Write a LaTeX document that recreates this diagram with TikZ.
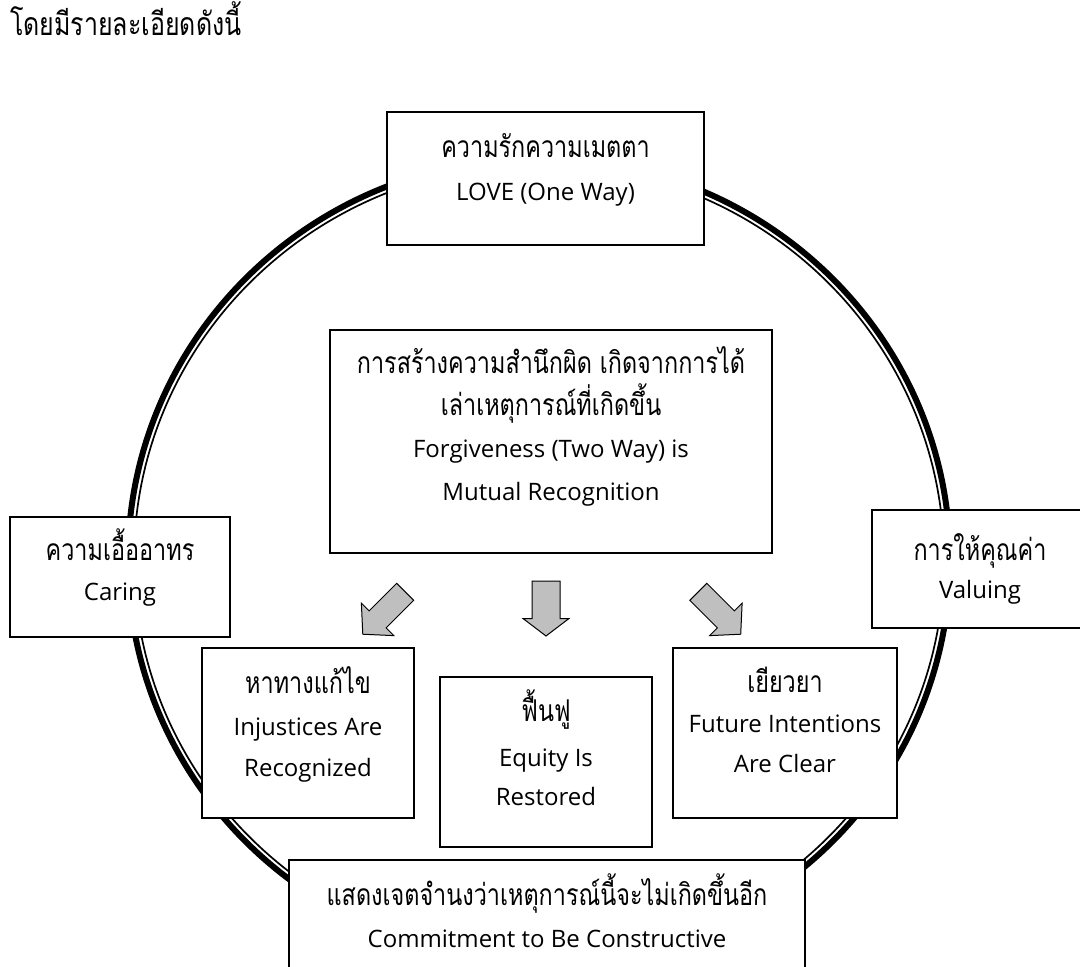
\documentclass[tikz,border=0pt]{standalone}
\usepackage{fontspec}
\setmainfont{Open Sans}
\newfontfamily\thaifont[Script=Thai, FakeStretch=0.78]{Loma}

\tikzset{
  box/.style={draw=black, line width=1.5pt, fill=white, inner sep=0pt},
  lat/.style={anchor=base, inner sep=0pt, font=\fontsize{24}{24}\selectfont},
  th/.style={anchor=base, inner sep=0pt, font=\thaifont\fontsize{30}{30}\selectfont},
  blockarrow/.style={fill=black!25, draw=black, line width=1pt, line join=miter},
}

\begin{document}
\begin{tikzpicture}[x=1pt, y=-1pt]
\useasboundingbox (0,0) rectangle (1080,967);

% heading
\node[th, anchor=base west, font=\thaifont\fontsize{32}{32}\selectfont] (title) at (10,35) {โดยมีรายละเอียดดังนี้};

% the ring: heavy outer stroke with a thin inner stroke
\draw[line width=6pt] (539,560) ellipse [x radius=411, y radius=402];
\draw[line width=1.7pt] (539,560) ellipse [x radius=405, y radius=396];

% top box
\node[box, minimum width=317pt, minimum height=133pt] (love) at (545.5,178.5) {};
\node[th] (loveth) at (545.5,157) {ความรักความเมตตา};
\node[lat] (loveen) at (545.5,200) {LOVE (One Way)};

% central box
\node[box, minimum width=442pt, minimum height=223pt] (forgive) at (551,441.5) {};
\node[th] (fg1) at (551,373) {การสร้างความสำนึกผิด เกิดจากการได้};
\node[th] (fg2) at (551,415) {เล่าเหตุการณ์ที่เกิดขึ้น};
\node[lat] (fg3) at (551,457) {Forgiveness (Two Way) is};
\node[lat] (fg4) at (551,500) {Mutual Recognition};

% side boxes
\node[box, minimum width=220pt, minimum height=120pt] (caring) at (120,577) {};
\node[th] (caringth) at (120,560) {ความเอื้ออาทร};
\node[lat] (caringen) at (120,600) {Caring};

\node[box, minimum width=210pt, minimum height=118pt] (valuing) at (977,569) {};
\node[th] (valuingth) at (980,560) {การให้คุณค่า};
\node[lat] (valuingen) at (980,598) {Valuing};

% lower row
\node[box, minimum width=212pt, minimum height=170pt] (injust) at (308,733) {};
\node[th] (inj1) at (308,693) {หาทางแก้ไข};
\node[lat] (inj2) at (308,735) {Injustices Are};
\node[lat] (inj3) at (308,776) {Recognized};

\node[box, minimum width=212pt, minimum height=170pt] (equity) at (546,762) {};
\node[th] (eq1) at (546,721) {ฟื้นฟู};
\node[lat] (eq2) at (546,766) {Equity Is};
\node[lat] (eq3) at (546,805) {Restored};

\node[box, minimum width=224pt, minimum height=170pt] (future) at (785,733) {};
\node[th] (fu1) at (785,692) {เยียวยา};
\node[lat] (fu2) at (785,732) {Future Intentions};
\node[lat] (fu3) at (785,772) {Are Clear};

% bottom box, running past the lower edge
\node[box, minimum width=516pt, minimum height=130pt] (commit) at (547,925) {};
\node[th] (cm1) at (547,905) {แสดงเจตจำนงว่าเหตุการณ์นี้จะไม่เกิดขึ้นอีก};
\node[lat] (cm2) at (547,947) {Commitment to Be Constructive};

% block arrows below the central box
\begin{scope}[shift={(384,613)}, rotate=-45]
  \draw[blockarrow] (-12,-30) -- (12,-30) -- (12,9) -- (23,9) -- (0,30) -- (-23,9) -- (-12,9) -- cycle;
\end{scope}
\begin{scope}[shift={(546,608.5)}]
  \draw[blockarrow] (-14,-27.5) -- (14,-27.5) -- (14,10) -- (23,10) -- (0,27.5) -- (-23,10) -- (-14,10) -- cycle;
\end{scope}
\begin{scope}[shift={(719.5,613)}, rotate=45]
  \draw[blockarrow] (-12,-30) -- (12,-30) -- (12,9) -- (23,9) -- (0,30) -- (-23,9) -- (-12,9) -- cycle;
\end{scope}
\end{tikzpicture}
\end{document}
